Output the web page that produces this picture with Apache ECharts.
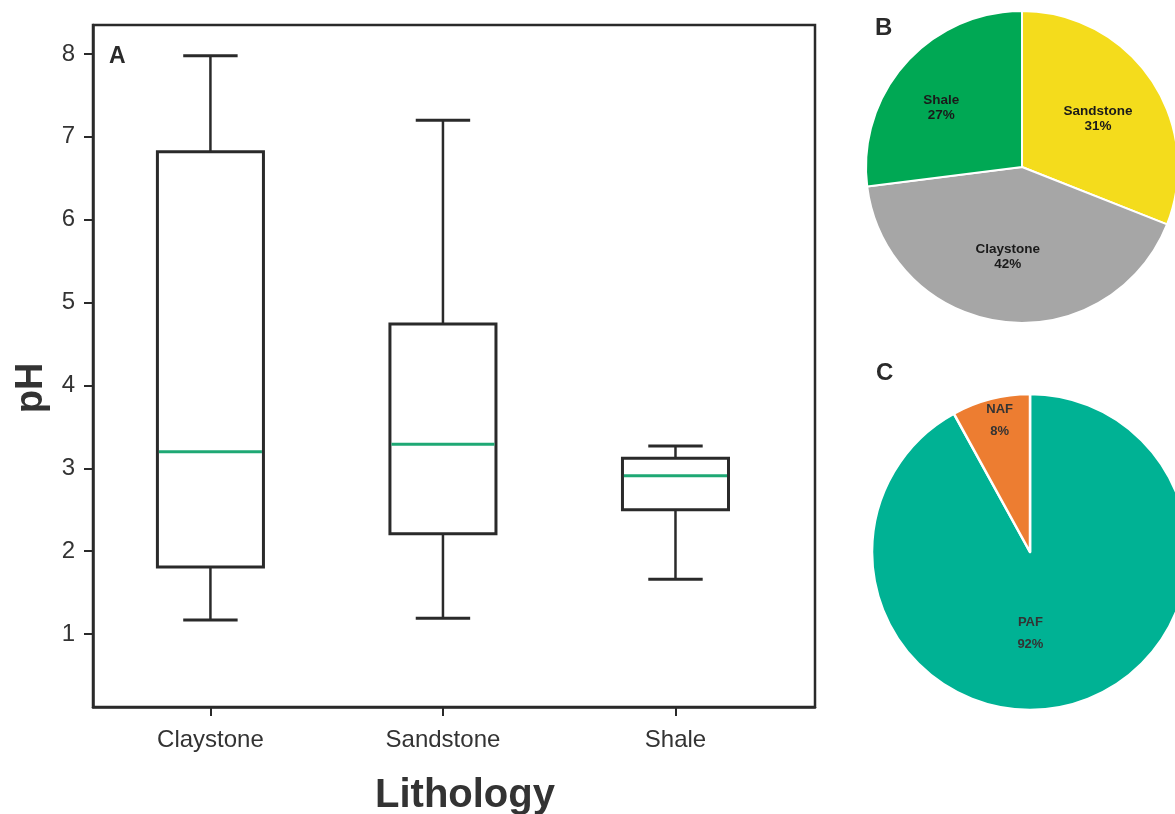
<!DOCTYPE html>
<html>
<head>
<meta charset="utf-8">
<script src="https://cdn.jsdelivr.net/npm/echarts@6/dist/echarts.min.js"></script>
<style>html,body{margin:0;padding:0;background:#fff;}#c{width:1175px;height:814px;}</style>
</head>
<body>
<div id="c"></div>
<script>
// ---- data ----
var categories = ['Claystone', 'Sandstone', 'Shale'];
var whiskerLow  = [1.17, 1.19, 1.66];
var q1          = [1.81, 2.21, 2.50];
var median      = [3.20, 3.29, 2.91];
var q3          = [6.82, 4.74, 3.12];
var whiskerHigh = [7.98, 7.20, 3.27];
var yTicks = [1, 2, 3, 4, 5, 6, 7, 8];

var lithNames = ['Sandstone', 'Claystone', 'Shale'];
var lithPct   = [31, 42, 27];
var acidNames = ['PAF', 'NAF'];
var acidPct   = [92, 8];

var boxData = categories.map(function (c, i) {
  return [i + 1, whiskerLow[i], q1[i], median[i], q3[i], whiskerHigh[i]];
});

var chart = echarts.init(document.getElementById('c'), null, {renderer: 'canvas'});
var dark = '#2a2a2a';
var labelOffsetsB = [[9, -3], [-4, 9], [-20, -6]];
var labelOffsetsC = [[-20, 2], [-10, -52]];

chart.setOption({
  animation: false,
  backgroundColor: '#ffffff',
  grid: {left: 93, top: 25, right: 360, bottom: 107, show: true, borderColor: dark, borderWidth: 2.5,
    containLabel: false, outerBoundsMode: 'none'},
  xAxis: {
    type: 'value', min: 0.495, max: 3.6,
    axisLine: {show: true, onZero: false, lineStyle: {color: dark, width: 2.5}},
    axisTick: {show: true, customValues: [1, 2, 3], length: 9, lineStyle: {color: dark, width: 2}},
    axisLabel: {customValues: [1, 2, 3], formatter: function (v) { return categories[Math.round(v) - 1]; },
      fontFamily: 'Liberation Sans, Arial', fontSize: 24, color: '#333', margin: 21},
    splitLine: {show: false},
    name: 'Lithology', nameLocation: 'middle', nameGap: 69,
    nameTextStyle: {fontFamily: 'Liberation Sans, Arial', fontWeight: 'bold', fontSize: 40, color: '#333', padding: [0, 0, 0, 22]}
  },
  yAxis: {
    type: 'value', min: 0.119, max: 8.35,
    axisLine: {show: true, onZero: false, lineStyle: {color: dark, width: 2.5}},
    axisTick: {show: true, customValues: yTicks, length: 9, lineStyle: {color: dark, width: 2}},
    axisLabel: {customValues: yTicks, fontFamily: 'Liberation Sans, Arial', fontSize: 24, color: '#333', margin: 18},
    splitLine: {show: false},
    name: 'pH', nameLocation: 'middle', nameGap: 42, nameRotate: 90,
    nameTextStyle: {fontFamily: 'Liberation Sans, Arial', fontWeight: 'bold', fontSize: 38, color: '#333', padding: [0, 44, 0, 0]}
  },
  graphic: [
    {type: 'text', left: 109, top: 45, style: {text: 'A', font: 'bold 23px "Liberation Sans", Arial', fill: '#2a2a2a'}},
    {type: 'text', left: 875, top: 16, style: {text: 'B', font: 'bold 24px "Liberation Sans", Arial', fill: '#2a2a2a'}},
    {type: 'text', left: 876, top: 361, style: {text: 'C', font: 'bold 24px "Liberation Sans", Arial', fill: '#2a2a2a'}}
  ],
  series: [
    {
      type: 'custom',
      data: boxData,
      clip: false,
      renderItem: function (params, api) {
        var x = api.value(0);
        var boxHalf = 0.228, capHalf = 0.117;
        var pLow = api.coord([x, api.value(1)]);
        var pQ1 = api.coord([x, api.value(2)]);
        var pMed = api.coord([x, api.value(3)]);
        var pQ3 = api.coord([x, api.value(4)]);
        var pHigh = api.coord([x, api.value(5)]);
        var bl = api.coord([x - boxHalf, api.value(2)])[0];
        var br = api.coord([x + boxHalf, api.value(2)])[0];
        var cl = api.coord([x - capHalf, api.value(1)])[0];
        var cr = api.coord([x + capHalf, api.value(1)])[0];
        var ls = {stroke: dark, lineWidth: 2.5};
        return {
          type: 'group',
          children: [
            {type: 'line', shape: {x1: pQ3[0], y1: pQ3[1], x2: pHigh[0], y2: pHigh[1]}, style: ls},
            {type: 'line', shape: {x1: pQ1[0], y1: pQ1[1], x2: pLow[0], y2: pLow[1]}, style: ls},
            {type: 'line', shape: {x1: cl, y1: pHigh[1], x2: cr, y2: pHigh[1]}, style: {stroke: dark, lineWidth: 3}},
            {type: 'line', shape: {x1: cl, y1: pLow[1], x2: cr, y2: pLow[1]}, style: {stroke: dark, lineWidth: 3}},
            {type: 'rect', shape: {x: bl, y: pQ3[1], width: br - bl, height: pQ1[1] - pQ3[1]},
              style: {fill: '#fff', stroke: dark, lineWidth: 3}},
            {type: 'line', shape: {x1: bl + 1.5, y1: pMed[1], x2: br - 1.5, y2: pMed[1]}, style: {stroke: '#1ea874', lineWidth: 3}}
          ]
        };
      }
    },
    {
      type: 'pie',
      center: [1022, 167],
      radius: 156,
      startAngle: 90,
      clockwise: true,
      avoidLabelOverlap: false,
      itemStyle: {borderColor: '#fff', borderWidth: 2},
      label: {show: true, position: 'inside', formatter: '{b}\n{c}%', fontFamily: 'Liberation Sans, Arial',
        fontWeight: 'bold', fontSize: 13.5, color: '#1a1a1a', lineHeight: 15},
      labelLine: {show: false},
      labelLayout: function (p) { var o = labelOffsetsB[p.dataIndex]; return {dx: o[0], dy: o[1]}; },
      emphasis: {disabled: true},
      data: lithNames.map(function (n, i) {
        return {name: n, value: lithPct[i], itemStyle: {color: ['#f4dc1c', '#a6a6a6', '#00a854'][i]}};
      })
    },
    {
      type: 'pie',
      center: [1030, 552],
      radius: 158,
      startAngle: 90,
      clockwise: true,
      avoidLabelOverlap: false,
      itemStyle: {borderColor: '#fff', borderWidth: 2.5},
      label: {show: true, position: 'inside', formatter: '{b}\n{c}%', fontFamily: 'Liberation Sans, Arial',
        fontWeight: 'bold', fontSize: 13, color: '#333', lineHeight: 22},
      labelLine: {show: false},
      labelLayout: function (p) { var o = labelOffsetsC[p.dataIndex]; return {dx: o[0], dy: o[1]}; },
      emphasis: {disabled: true},
      data: acidNames.map(function (n, i) {
        return {name: n, value: acidPct[i], itemStyle: {color: ['#00b294', '#ed7d31'][i]}};
      })
    }
  ]
});
</script>
</body>
</html>
